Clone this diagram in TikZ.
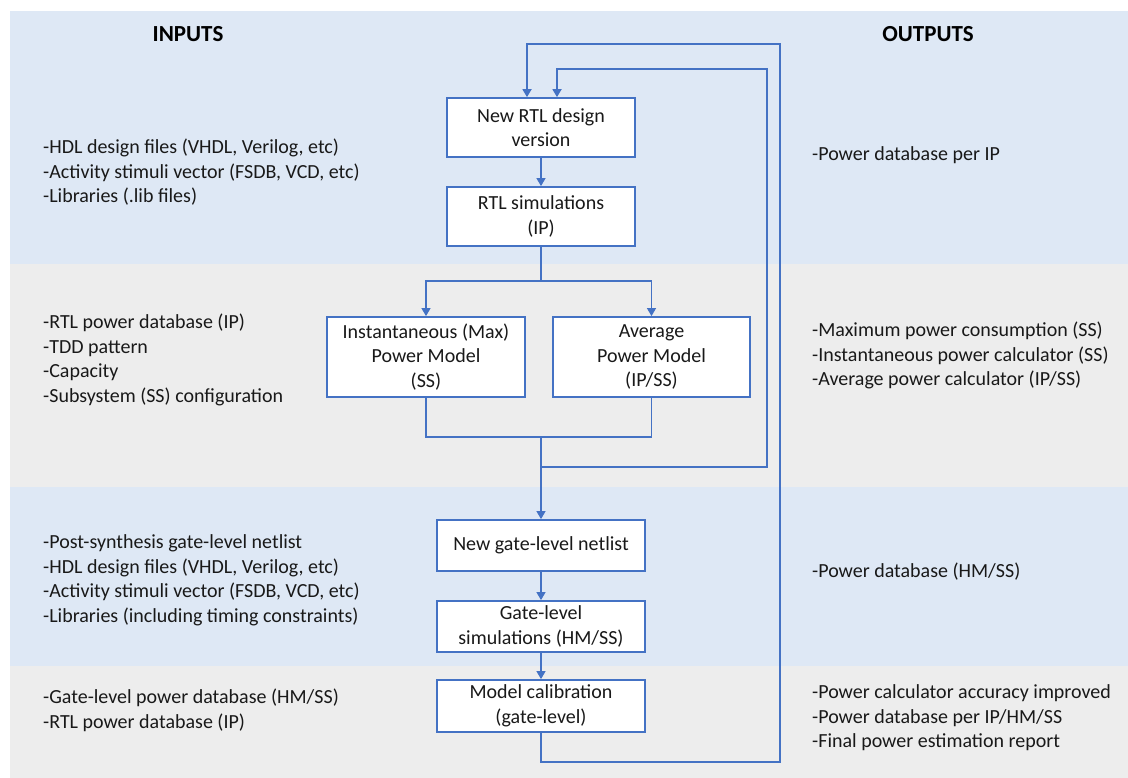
\documentclass[tikz,border=0pt]{standalone}
\usepackage{fontspec}
\setmainfont{Carlito}
\usetikzlibrary{arrows.meta,calc}

\definecolor{bandblue}{RGB}{222,232,245}
\definecolor{bandgray}{RGB}{237,237,237}
\definecolor{flowblue}{RGB}{68,114,196}
\definecolor{txt}{RGB}{25,25,25}

\tikzset{
  stepbox/.style={draw=flowblue, line width=1.8pt, fill=white, align=center,
    inner sep=0pt, text=txt, font=\fontsize{20}{24.5}\selectfont},
  listtext/.style={anchor=west, align=left, inner sep=0pt, text=txt,
    font=\fontsize{20}{24.5}\selectfont},
  heading/.style={inner sep=0pt, text=black, font=\fontsize{23}{26}\selectfont\bfseries},
  flow/.style={draw=flowblue, line width=1.2pt},
  loopline/.style={draw=flowblue, line width=1.7pt},
  arr/.style={-{Triangle[width=9pt,length=8pt]}},
}

\begin{document}
\begin{tikzpicture}[x=1pt,y=-1pt]
\useasboundingbox (0,0) rectangle (1128,778);
\fill[white] (0,0) rectangle (1128,778);

% horizontal bands
\fill[bandblue] (10,11)  rectangle (1128,264);
\fill[bandgray] (10,264) rectangle (1128,487);
\fill[bandblue] (10,487) rectangle (1128,666);
\fill[bandgray] (10,666) rectangle (1128,778);

% column headings
\node[heading] (hin)  at (188,34) {INPUTS};
\node[heading] (hout) at (928,34) {OUTPUTS};

% inputs
\node[listtext] (in1) at (43,172.5) {-HDL design files (VHDL, Verilog, etc)\\-Activity stimuli vector (FSDB, VCD, etc)\\-Libraries (.lib files)};
\node[listtext] (in2) at (43,360) {-RTL power database (IP)\\-TDD pattern\\-Capacity\\-Subsystem (SS) configuration};
\node[listtext] (in3) at (43,580.5) {-Post-synthesis gate-level netlist\\-HDL design files (VHDL, Verilog, etc)\\-Activity stimuli vector (FSDB, VCD, etc)\\-Libraries (including timing constraints)};
\node[listtext] (in4) at (43,710.5) {-Gate-level power database (HM/SS)\\-RTL power database (IP)};

% outputs
\node[listtext] (out1) at (812,155) {-Power database per IP};
\node[listtext] (out2) at (812,355.5) {-Maximum power consumption (SS)\\-Instantaneous power calculator (SS)\\-Average power calculator (IP/SS)};
\node[listtext] (out3) at (812,572) {-Power database (HM/SS)};
\node[listtext] (out4) at (812,718) {-Power calculator accuracy improved\\-Power database per IP/HM/SS\\-Final power estimation report};

% process steps
\node[stepbox, minimum width=188pt, minimum height=59pt] (rtl)    at (541,127.5) {New RTL design\\version};
\node[stepbox, minimum width=188pt, minimum height=59pt] (rtlsim) at (541,216.5) {RTL simulations\\(IP)};
\node[stepbox, minimum width=198pt, minimum height=80pt] (inst)   at (426,357) {Instantaneous (Max)\\Power Model\\(SS)};
\node[stepbox, minimum width=197pt, minimum height=80pt] (avg)    at (651.5,357) {Average\\Power Model\\(IP/SS)};
\node[stepbox, minimum width=208pt, minimum height=51pt] (gnet)   at (541,545.5) {New gate-level netlist};
\node[stepbox, minimum width=208pt, minimum height=51pt] (gsim)   at (541,626.5) {Gate-level\\simulations (HM/SS)};
\node[stepbox, minimum width=208pt, minimum height=52pt] (calib)  at (541,706) {Model calibration\\(gate-level)};

% routing points
\coordinate (split) at (541,281);
\coordinate (merge) at (541,437);
\coordinate (fbA)   at (541,467);
\coordinate (fbAr)  at (767,467);
\coordinate (fbAt)  at (767,69);
\coordinate (fbB)   at (541,762);
\coordinate (fbBr)  at (780,762);
\coordinate (fbBt)  at (780,44);

% main flow
\draw[flow,arr] (rtl) -- (rtlsim);
\draw[flow] (rtlsim.south) -- (split);
\draw[flow,arr] (split) -| (inst.north);
\draw[flow,arr] (split) -| (avg.north);
\draw[loopline] (inst.south) |- (merge);
\draw[flow] (avg.south) |- (merge);
\draw[flow,arr] (merge) -- (gnet.north);
\draw[flow,arr] (gnet) -- (gsim);
\draw[flow,arr] (gsim) -- (calib);

% feedback loops to the RTL design
\draw[loopline,arr] (fbA) -- (fbAr) -- (fbAt) -| ([xshift=16pt]rtl.north);
\draw[loopline,arr] (calib.south) -- (fbB) -- (fbBr) -- (fbBt) -| ([xshift=-14pt]rtl.north);
\end{tikzpicture}
\end{document}
